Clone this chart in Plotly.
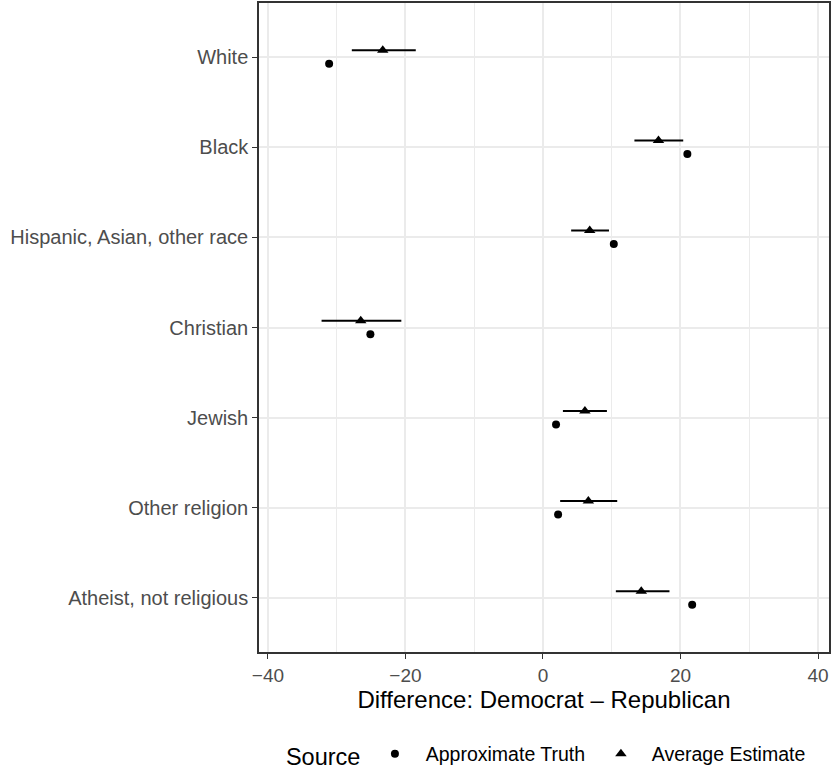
import plotly.graph_objects as go

categories = ["White", "Black", "Hispanic, Asian, other race", "Christian",
              "Jewish", "Other religion", "Atheist, not religious"]
truth = [-31.1, 21.0, 10.3, -25.1, 1.9, 2.2, 21.7]
estimate = [-23.3, 16.8, 6.8, -26.5, 6.1, 6.6, 14.3]
est_low = [-27.8, 13.3, 4.1, -32.2, 2.9, 2.5, 10.6]
est_high = [-18.5, 20.4, 9.6, -20.6, 9.3, 10.8, 18.4]
x_ticks = [-40, -20, 0, 20, 40]
x_minor = [-30, -10, 10, 30]

pos = list(range(len(categories)))
off = 0.075
font_family = "Liberation Sans, Arial, sans-serif"
nb = "\u00a0\u00a0"

fig = go.Figure()
fig.add_trace(go.Scatter(
    x=truth, y=[p + off for p in pos], mode="markers",
    marker=dict(symbol="circle", size=8, color="black"),
    name=nb + "Approximate Truth" + nb))
fig.add_trace(go.Scatter(
    x=estimate, y=[p - off for p in pos], mode="markers",
    marker=dict(symbol="triangle-up", size=10, color="black"),
    error_x=dict(type="data", symmetric=False,
                 array=[h - e for h, e in zip(est_high, estimate)],
                 arrayminus=[e - l for e, l in zip(estimate, est_low)],
                 width=0, thickness=2, color="black"),
    name=nb + "Average Estimate"))

fig.add_shape(type="line", x0=0, x1=0, y0=0, y1=1, xref="x", yref="paper",
              line=dict(color="#A6A6A6", width=1.5, dash="dash"), layer="below")

fig.update_layout(
    width=832, height=769,
    margin=dict(l=259, r=1, t=3, b=117),
    plot_bgcolor="white", paper_bgcolor="white",
    font=dict(family=font_family, color="#4D4D4D", size=19),
    showlegend=True,
    legend=dict(orientation="h", x=0.506, xanchor="center",
                yref="container", y=(769 - 755) / 769, yanchor="middle",
                title=dict(text="Source\u00a0", font=dict(size=23.5, color="black")),
                font=dict(size=19.5, color="black"), itemwidth=30),
    xaxis=dict(range=[-41.3, 41.6], tickvals=x_ticks,
               ticktext=["\u221240", "\u221220", "0", "20", "40"],
               showgrid=True, gridcolor="#EBEBEB", gridwidth=1.5,
               minor=dict(tickvals=x_minor, showgrid=True, gridcolor="#EBEBEB", gridwidth=0.8),
               zeroline=False, showline=True, linecolor="#333333", linewidth=1.5, mirror=True,
               ticks="outside", ticklen=5, tickcolor="#333333", tickwidth=1.2,
               tickfont=dict(size=19, color="#4D4D4D"),
               title=dict(text="Difference: Democrat \u2013 Republican",
                          font=dict(size=24, color="black"), standoff=6)),
    yaxis=dict(range=[6.6, -0.6], tickvals=pos, ticktext=categories,
               showgrid=True, gridcolor="#EBEBEB", gridwidth=1.5,
               zeroline=False, showline=True, linecolor="#333333", linewidth=1.5, mirror=True,
               ticks="outside", ticklen=5, tickcolor="#333333", tickwidth=1.2,
               tickfont=dict(size=20, color="#4D4D4D")),
)

fig.write_html("out.html", config={"displayModeBar": False},
               post_script="document.body.style.margin='0';")
